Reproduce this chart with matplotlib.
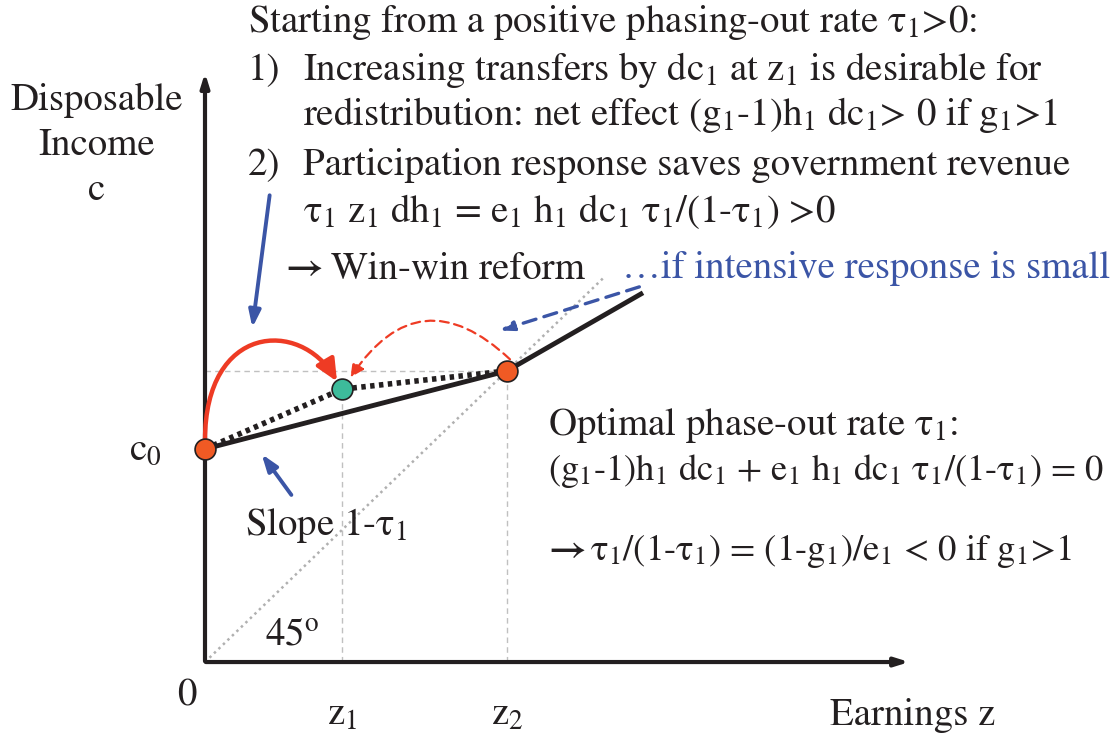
import numpy as np
import matplotlib.pyplot as plt
from matplotlib.patches import FancyArrowPatch
from matplotlib.path import Path

plt.rcParams['font.family'] = ['STIXGeneral', 'DejaVu Sans']
plt.rcParams['mathtext.fontset'] = 'stix'

# schematic values (earnings z, disposable income c)
c0 = 2.21
z1, c_new = 1.37, 2.83
z2, c2 = 3.02, 3.02
z_end, c_end = 4.38, 3.83
diag_end = 4.0

RED = '#EE3B24'
BLUE = '#3B55A6'
ORANGE = '#F05A24'
GREEN = '#3DBB9B'
INK = '#231F20'

fig = plt.figure(figsize=(11.17, 7.38), dpi=100)
ax = fig.add_axes([0, 0, 1, 1])
ax.set_xlim(-2.05, 9.12)
ax.set_ylim(-0.788, 6.867)
ax.axis('off')

# axes with arrows
ax.annotate('', xy=(0, 6.14), xytext=(0, -0.02),
            arrowprops=dict(arrowstyle='-|>,head_length=0.8,head_width=0.25', lw=3, color=INK))
ax.annotate('', xy=(7.07, 0), xytext=(-0.02, 0),
            arrowprops=dict(arrowstyle='-|>,head_length=0.8,head_width=0.25', lw=3, color=INK))

# 45 degree line and guides
ax.plot([0, diag_end], [0, diag_end], color='#B0B0B0', lw=1.8, ls=(0, (1, 1.5)))
ax.plot([0, z2], [c2, c2], color='#C0C0C0', lw=1, ls=(0, (4, 3)))
ax.plot([z1, z1], [0, c_new], color='#C0C0C0', lw=1, ls=(0, (4, 3)))
ax.plot([z2, z2], [0, c2], color='#C0C0C0', lw=1, ls=(0, (4, 3)))

# budget lines
ax.plot([0, z2, z_end], [c0, c2, c_end], color=INK, lw=3.5, solid_capstyle='butt')
ax.plot([0, z1, z2], [c0, c_new, c2], color=INK, lw=4, ls=(0, (0.8, 0.8)))

# curved red arrows
red_path = Path([(0.0, c0 + 0.09), (0.0, c0 + 1.3), (0.95, c0 + 1.35), (z1 - 0.05, c_new + 0.08)],
                [Path.MOVETO, Path.CURVE4, Path.CURVE4, Path.CURVE4])
arr = FancyArrowPatch(path=red_path,
                      arrowstyle='-|>,head_length=13,head_width=6',
                      color=RED, lw=3.2, zorder=4)
ax.add_patch(arr)
arr2 = FancyArrowPatch((z2 + 0.05, c2 + 0.1), (z1 + 0.07, c_new + 0.1),
                       connectionstyle='arc3,rad=0.6',
                       arrowstyle='-|>,head_length=8,head_width=4',
                       color=RED, lw=1.6, ls=(0, (4, 2.5)), zorder=4)
ax.add_patch(arr2)

# blue arrows
ax.annotate('', xy=(0.47, 3.44), xytext=(0.65, 4.87),
            arrowprops=dict(arrowstyle='-|>,head_length=1.0,head_width=0.35', lw=2.8, color=BLUE))
ax.annotate('', xy=(0.55, 2.18), xytext=(0.88, 1.71),
            arrowprops=dict(arrowstyle='-|>,head_length=1.0,head_width=0.35', lw=2.8, color=BLUE))
ax.annotate('', xy=(2.92, 3.43), xytext=(4.37, 3.90),
            arrowprops=dict(arrowstyle='-|>,head_length=0.8,head_width=0.28', lw=2.4,
                            color=BLUE, ls=(0, (4, 2.5))))

# points
ax.plot([0, z2], [c0, c2], 'o', ms=15, mfc=ORANGE, mec=INK, mew=1.2, zorder=6)
ax.plot([z1], [c_new], 'o', ms=15, mfc=GREEN, mec=INK, mew=1.2, zorder=6)

fs = 28
kw = dict(fontsize=fs, color=INK)
ax.text(0.43, 6.54, r'Starting from a positive phasing-out rate τ$_1$>0:', **kw)
ax.text(0.43, 6.04, '1)', **kw)
ax.text(0.98, 6.04, r'Increasing transfers by dc$_1$ at z$_1$ is desirable for', **kw)
ax.text(0.98, 5.57, r'redistribution: net effect (g$_1$-1)h$_1$ dc$_1$> 0 if g$_1$>1', **kw)
ax.text(0.43, 5.05, '2)', **kw)
ax.text(0.98, 5.05, 'Participation response saves government revenue', **kw)
ax.text(0.98, 4.56, r'τ$_1$ z$_1$ dh$_1$ = e$_1$ h$_1$ dc$_1$ τ$_1$/(1-τ$_1$) >0', **kw)
ax.text(0.80, 3.98, '→', fontweight='bold', **kw)
ax.text(1.26, 3.98, 'Win-win reform', **kw)
ax.text(4.17, 3.98, '…if intensive response is small', fontsize=fs, color=BLUE)

ax.text(-1.08, 5.73, 'Disposable', ha='center', **kw)
ax.text(-1.08, 5.26, 'Income', ha='center', **kw)
ax.text(-1.08, 4.79, 'c', ha='center', **kw)
ax.text(-0.43, 2.10, r'c$_0$', ha='right', **kw)

ax.text(3.43, 2.35, r'Optimal phase-out rate τ$_1$:', **kw)
ax.text(3.43, 1.89, r'(g$_1$-1)h$_1$ dc$_1$ + e$_1$ h$_1$ dc$_1$ τ$_1$/(1-τ$_1$) = 0',
        fontsize=26.3, color=INK)
ax.text(3.43, 1.06, '→', fontweight='bold', **kw)
ax.text(3.85, 1.06, r'τ$_1$/(1-τ$_1$) = (1-g$_1$)/e$_1$ < 0 if g$_1$>1', fontsize=26.5, color=INK)
ax.text(0.40, 1.32, r'Slope 1-τ$_1$', **kw)
ax.text(0.60, 0.18, r'45$^{\mathrm{o}}$', **kw)

ax.text(-0.18, -0.45, '0', ha='center', **kw)
ax.text(z1, -0.65, r'z$_1$', ha='center', **kw)
ax.text(z2, -0.65, r'z$_2$', ha='center', **kw)
ax.text(6.25, -0.65, 'Earnings z', **kw)

fig.savefig('out.png', dpi=100)
